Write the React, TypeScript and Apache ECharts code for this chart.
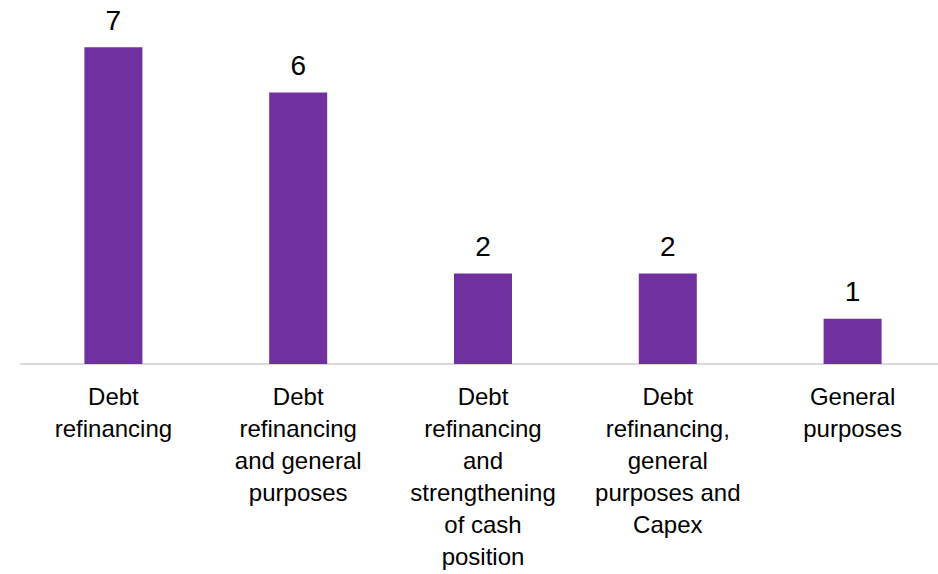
import React, { useEffect, useRef } from "react";
import * as echarts from "echarts";

const categories = [
  "Debt\nrefinancing",
  "Debt\nrefinancing\nand general\npurposes",
  "Debt\nrefinancing\nand\nstrengthening\nof cash\nposition",
  "Debt\nrefinancing,\ngeneral\npurposes and\nCapex",
  "General\npurposes",
];
const values = [7, 6, 2, 2, 1];

export default function App() {
  const ref = useRef<HTMLDivElement>(null);
  useEffect(() => {
    if (!ref.current) return;
    const chart = echarts.init(ref.current, null, { renderer: "svg" });
    chart.setOption({
      animation: false,
      grid: { left: 21, right: 0, top: 2, bottom: 210, containLabel: false },
      xAxis: {
        type: "category",
        data: categories,
        axisLine: { lineStyle: { color: "#d9d9d9", width: 2 } },
        axisTick: { show: false },
        axisLabel: {
          interval: 0,
          color: "#000",
          fontFamily: "Liberation Sans, Arial, sans-serif",
          fontSize: 24,
          lineHeight: 32,
          margin: 16,
        },
      },
      yAxis: {
        type: "value",
        min: 0,
        max: 8,
        show: false,
        splitLine: { show: false },
      },
      series: [
        {
          type: "bar",
          data: values,
          barWidth: 58,
          itemStyle: { color: "#7030A0" },
          label: {
            show: true,
            position: "top",
            distance: 13,
            color: "#000",
            fontFamily: "Liberation Sans, Arial, sans-serif",
            fontSize: 28,
          },
        },
      ],
    });
    return () => chart.dispose();
  }, []);
  return (
    <div
      style={{ position: "fixed", left: 0, top: 0, width: 938, height: 574, overflow: "hidden", background: "#fff" }}
    >
      <div ref={ref} style={{ width: 945, height: 574 }} />
    </div>
  );
}
